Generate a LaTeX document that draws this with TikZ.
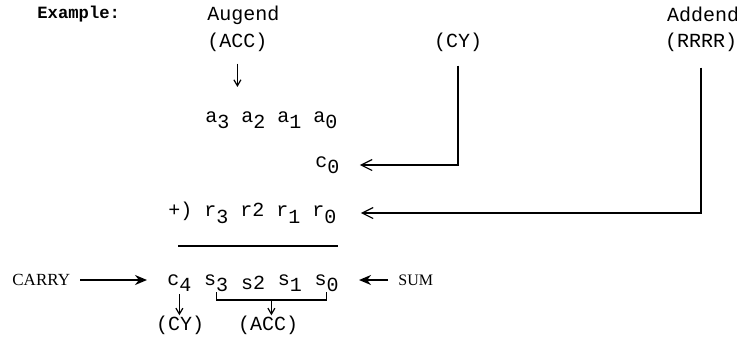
\documentclass[tikz,border=0pt]{standalone}
\usepackage{fontspec}
\setmainfont{Liberation Serif}
\setmonofont{Liberation Mono}
\usepackage{tikz}
\usetikzlibrary{shapes, arrows.meta, positioning}
\usetikzlibrary{calc}
\newcommand{\dn}[1]{\raisebox{-0.6ex}{#1}}

\begin{document}
\begin{tikzpicture}
  [
    x=0.5pt, y=-0.5pt,
    Mono/.style={font=\ttfamily\fontsize{10}{12}\selectfont, inner sep=0pt},
    Word/.style={font=\rmfamily\fontsize{8.5}{10}\selectfont, inner sep=0pt},
    Feed/.style={-{Straight Barb[length=5.5pt, width=5.5pt]}, draw, semithick},
    Drop/.style={-{Straight Barb[length=3pt, width=3.5pt]}, draw, semithick},
    Push/.style={-{Stealth[length=6pt, width=5pt]}, draw, thick}
  ]
  \useasboundingbox (0, 0) rectangle (737, 339);
  % Nodes
  \node[Mono, font=\ttfamily\bfseries\fontsize{8.6}{10}\selectfont, anchor=west] (ex) at(37, 14) {Example:};
  \node[Mono, anchor=west] (augend) at(207, 15) {Augend};
  \node[Mono, anchor=west] (acc) at(207, 42) {(ACC)};
  \node[Mono] (cyTop) at(458, 42) {(CY)};
  \node[Mono] (addend) at(703, 14) {Addend};
  \node[Mono] (rrrr) at(701, 42) {(RRRR)};
  \node[Mono, anchor=west] (arow) at(205, 120) {a\dn{3} a\dn{2} a\dn{1} a\dn{0}};
  \node[Mono, anchor=west] (czero) at(315, 165) {c\dn{0}};
  \node[Mono, anchor=west] (rrow) at(168, 213) {+) r\dn{3} r2 r\dn{1} r\dn{0}};
  \node[Word, anchor=west] (carry) at(12, 280) {CARRY};
  \node[Mono, anchor=west] (c4) at(167, 283) {c\dn{4}};
  \node[Mono, right=6pt of c4] (s3) {s\dn{3}};
  \node[Mono, right=6pt of s3] (s2) {s2};
  \node[Mono, right=6pt of s2] (s1) {s\dn{1}};
  \node[Mono, right=6pt of s1] (s0) {s\dn{0}};
  \node[Word, font=\rmfamily\fontsize{8}{10}\selectfont, anchor=west] (sum) at(398, 280) {SUM};
  \node[Mono] (cyBot) at(180, 325) {(CY)};
  \node[Mono] (accBot) at(268, 325) {(ACC)};
  \coordinate (brk) at ($(s3.south)!0.5!(s0.south) + (0, 8)$);
  % Lines
  \path [Drop, shorten <=6pt, shorten >=12pt] (acc.south) -- (acc.south |- arow.north);
  \path [Feed, shorten <=7pt, shorten >=10pt] (cyTop.south) |- (czero.east);
  \path [Feed, shorten <=8pt, shorten >=12pt] (rrrr.south) |- (rrow.east);
  \draw [semithick] (178, 246) -- (338, 246);
  \path [Push, shorten <=5pt, shorten >=10pt] (carry.east) -- (carry.east -| c4.west);
  \path [Push, shorten <=5pt, shorten >=10pt] (sum.west) -- (sum.west -| s0.east);
  \draw [semithick] (s3.south) -- ++(0, 8) -| (s0.south);
  \path [Drop, shorten <=1pt] (c4.south) -- (c4.south |- cyBot.north);
  \path [Drop] (brk) -- (brk |- accBot.north);
\end{tikzpicture}
\end{document}
